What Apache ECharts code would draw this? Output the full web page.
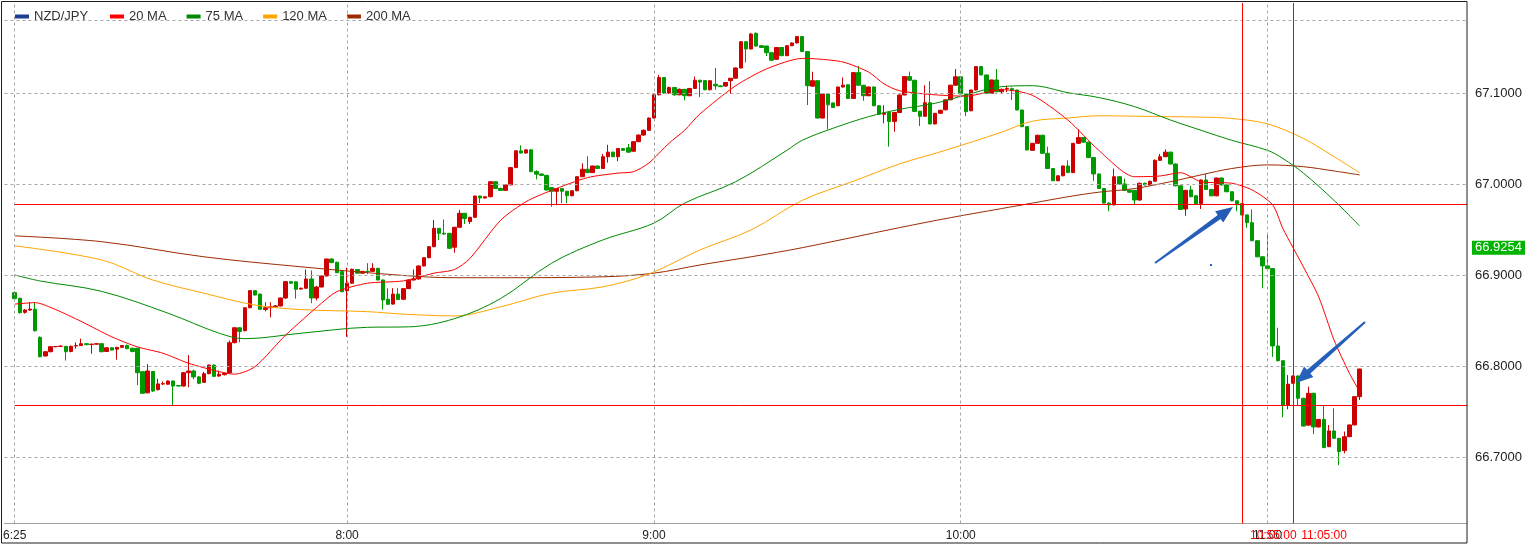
<!DOCTYPE html>
<html><head><meta charset="utf-8">
<script src="https://cdn.jsdelivr.net/npm/echarts@6/dist/echarts.min.js"></script>
<style>html,body{margin:0;padding:0;background:#fff}#c{width:1533px;height:546px}</style>
</head><body><div id="c"></div>
<script>
// ---- data ----
const tickLabels = ['6:25', '8:00', '9:00', '10:00', '11:00'];
const yTicks = [66.7, 66.8, 66.9, 67.0, 67.1];
const topGridValue = 67.179;
const hLines = [66.978, 66.7566];
const vLines = ['10:55', '11:05'];
const vLineLabels = ['10:55:00', '11:05:00'];
const priceTag = 66.9254;

// first candle 6:25, then 1-minute candles from 6:56; [open, close, low, high]
const ohlc = [
[66.8806,66.8740,66.8710,66.8820],[66.8744,66.8586,66.8575,66.8750],[66.8590,66.8615,66.8575,66.8625],[66.8615,66.8625,66.8605,66.8700],
[66.8623,66.8388,66.8378,66.8700],[66.8315,66.8102,66.8095,66.8325],[66.8110,66.8157,66.8105,66.8160],[66.8157,66.8212,66.8150,66.8215],
[66.8212,66.8214,66.8205,66.8220],[66.8214,66.8218,66.8210,66.8230],[66.8216,66.8157,66.8060,66.8220],[66.8160,66.8216,66.8150,66.8225],
[66.8220,66.8224,66.8190,66.8260],[66.8224,66.8245,66.8220,66.8300],[66.8245,66.8235,66.8225,66.8250],[66.8235,66.8240,66.8135,66.8245],
[66.8240,66.8245,66.8235,66.8250],[66.8245,66.8157,66.8150,66.8250],[66.8160,66.8200,66.8155,66.8205],[66.8200,66.8175,66.8170,66.8205],
[66.8185,66.8205,66.8070,66.8210],[66.8205,66.8225,66.8200,66.8230],[66.8225,66.8190,66.8185,66.8235],[66.8195,66.8160,66.8150,66.8200],
[66.8195,66.7926,66.7790,66.8200],[66.7937,66.7700,66.7695,66.7940],[66.7705,66.7945,66.7700,66.8020],[66.7940,66.7725,66.7715,66.7945],
[66.7740,66.7803,66.7730,66.7860],[66.7803,66.7805,66.7790,66.7830],[66.7800,66.7835,66.7795,66.7840],[66.7835,66.7780,66.7570,66.7840],
[66.7785,66.7780,66.7775,66.7790],[66.7780,66.7926,66.7775,66.7935],[66.7926,66.7945,66.7766,66.8120],[66.7945,66.7880,66.7855,66.7960],
[66.7880,66.7810,66.7800,66.7890],[66.7820,66.7915,66.7815,66.7935],[66.7915,66.8010,66.7910,66.8015],[66.8010,66.7886,66.7880,66.8015],
[66.7890,66.7910,66.7880,66.7950],[66.7905,66.7920,66.7895,66.7925],[66.7926,66.8256,66.7920,66.8280],[66.8256,66.8420,66.8250,66.8425],
[66.8420,66.8380,66.8260,66.8425],[66.8388,66.8640,66.8380,66.8645],[66.8640,66.8828,66.8635,66.8835],[66.8828,66.8780,66.8775,66.8835],
[66.8790,66.8623,66.8620,66.8795],[66.8620,66.8640,66.8600,66.8700],[66.8640,66.8650,66.8535,66.8700],[66.8650,66.8660,66.8640,66.8670],
[66.8660,66.8747,66.8655,66.8750],[66.8747,66.8927,66.8740,66.8930],[66.8927,66.8910,66.8905,66.8935],[66.8925,66.8843,66.8740,66.8930],
[66.8845,66.8855,66.8840,66.8860],[66.8854,66.8956,66.8850,66.9060],[66.8956,66.8747,66.8690,66.9050],[66.8747,66.8868,66.8720,66.8880],
[66.8868,66.8989,66.8865,66.8995],[66.8989,66.9176,66.8985,66.9180],[66.9176,66.9136,66.9130,66.9180],[66.9140,66.9025,66.9020,66.9145],
[66.9037,66.8817,66.8810,66.9040],[66.8827,66.8910,66.8320,66.9080],[66.8910,66.9063,66.8905,66.9070],[66.9060,66.9020,66.9015,66.9065],
[66.9020,66.9040,66.9015,66.9045],[66.9040,66.9038,66.9010,66.9130],[66.9040,66.9073,66.9035,66.9130],[66.9073,66.8945,66.8940,66.9080],
[66.8945,66.8725,66.8620,66.8950],[66.8733,66.8678,66.8670,66.8855],[66.8680,66.8790,66.8675,66.8855],[66.8790,66.8730,66.8725,66.8855],
[66.8733,66.8850,66.8728,66.8855],[66.8850,66.8945,66.8845,66.8950],[66.8945,66.8956,66.8940,66.9060],[66.8956,66.9099,66.8950,66.9105],
[66.9099,66.9190,66.9095,66.9195],[66.9190,66.9311,66.9185,66.9315],[66.9311,66.9513,66.9305,66.9605],[66.9513,66.9458,66.9385,66.9515],
[66.9458,66.9450,66.9440,66.9610],[66.9458,66.9293,66.9285,66.9460],[66.9305,66.9524,66.9245,66.9530],[66.9524,66.9678,66.9520,66.9715],
[66.9678,66.9620,66.9560,66.9680],[66.9586,66.9634,66.9560,66.9640],[66.9634,66.9868,66.9630,66.9870],[66.9868,66.9846,66.9790,66.9870],
[66.9846,66.9860,66.9840,66.9865],[66.9860,67.0025,66.9855,67.0030],[67.0025,66.9950,66.9945,67.0030],[66.9950,66.9930,66.9925,66.9960],
[66.9930,66.9990,66.9925,66.9995],[66.9990,67.0180,66.9985,67.0185],[67.0180,67.0364,67.0175,67.0370],[67.0364,67.0340,67.0335,67.0425],
[67.0340,67.0375,67.0335,67.0380],[67.0375,67.0136,67.0130,67.0380],[67.0136,67.0108,67.0050,67.0150],[67.0110,67.0095,67.0090,67.0115],
[67.0095,66.9934,66.9930,67.0100],[66.9960,66.9920,66.9750,66.9965],[66.9920,66.9950,66.9766,66.9955],[66.9950,66.9920,66.9790,66.9955],
[66.9920,66.9871,66.9790,66.9925],[66.9871,66.9926,66.9865,66.9930],[66.9926,67.0080,66.9920,67.0085],[67.0080,67.0162,67.0075,67.0227],
[67.0162,67.0125,67.0120,67.0305],[67.0125,67.0198,67.0120,67.0200],[67.0198,67.0170,67.0165,67.0200],[67.0170,67.0300,67.0165,67.0330],
[67.0300,67.0350,67.0235,67.0430],[67.0350,67.0300,67.0295,67.0355],[67.0300,67.0390,67.0250,67.0395],[67.0390,67.0370,67.0365,67.0395],
[67.0398,67.0350,67.0345,67.0440],[67.0360,67.0465,67.0355,67.0470],[67.0465,67.0538,67.0460,67.0545],[67.0538,67.0590,67.0530,67.0600],
[67.0590,67.0725,67.0585,67.0730],[67.0725,67.0980,67.0720,67.0985],[67.0980,67.1170,67.0975,67.1200],[67.1170,67.1000,67.0995,67.1175],
[67.1000,67.1060,67.0990,67.1070],[67.1060,67.0980,67.0970,67.1065],[67.0980,67.1040,67.0975,67.1050],[67.1040,67.0970,67.0920,67.1045],
[67.0970,67.1050,67.0965,67.1055],[67.1050,67.1140,67.1045,67.1180],[67.1140,67.1120,67.0955,67.1145],[67.1136,67.1036,67.1030,67.1140],
[67.1036,67.1135,67.1030,67.1140],[67.1096,67.1078,67.1036,67.1275],[67.1078,67.1070,67.1065,67.1085],[67.1076,67.1115,67.1070,67.1120],
[67.1135,67.1162,67.0989,67.1165],[67.1162,67.1275,67.1160,67.1280],[67.1275,67.1564,67.1270,67.1570],[67.1564,67.1484,67.1337,67.1570],
[67.1484,67.1648,67.1480,67.1660],[67.1656,67.1516,67.1510,67.1665],[67.1520,67.1500,67.1495,67.1525],[67.1516,67.1443,67.1406,67.1520],
[67.1443,67.1360,67.1355,67.1445],[67.1370,67.1500,67.1365,67.1505],[67.1500,67.1410,67.1405,67.1505],[67.1410,67.1520,67.1405,67.1525],
[67.1520,67.1550,67.1515,67.1555],[67.1550,67.1620,67.1545,67.1625],[67.1620,67.1455,67.1450,67.1625],[67.1455,67.1080,67.0868,67.1460],
[67.1075,67.1135,67.1070,67.1234],[67.1135,67.0725,67.0720,67.1140],[67.0725,67.0989,67.0720,67.0995],[67.0990,67.0870,67.0600,67.0995],
[67.0891,67.0840,67.0835,67.0895],[67.0860,67.1066,67.0855,67.1070],[67.1066,67.1086,67.1060,67.1170],[67.1090,67.0940,67.0935,67.1095],
[67.0940,67.1224,67.0935,67.1230],[67.1224,67.1085,67.1080,67.1297],[67.1085,67.0970,67.0916,67.1090],[67.0970,67.1066,67.0965,67.1070],
[67.1066,67.0860,67.0855,67.1070],[67.0860,67.0766,67.0760,67.0865],[67.0766,67.0780,67.0667,67.0866],[67.0786,67.0686,67.0410,67.0790],
[67.0688,67.0786,67.0575,67.0790],[67.0786,67.0978,67.0780,67.0985],[67.0978,67.1180,67.0975,67.1185],[67.1180,67.1140,67.1135,67.1235],
[67.1140,67.0798,67.0795,67.1145],[67.0800,67.0744,67.0637,67.0805],[67.0744,67.0893,67.0740,67.1085],[67.0893,67.0660,67.0655,67.1130],
[67.0660,67.0777,67.0655,67.0780],[67.0777,67.0810,67.0775,67.0815],[67.0815,67.0925,67.0810,67.0930],[67.0925,67.1086,67.0920,67.1090],
[67.1086,67.1178,67.1080,67.1264],[67.1178,67.0990,67.0985,67.1180],[67.0990,67.0795,67.0747,67.0995],[67.0805,67.1033,67.0800,67.1035],
[67.1033,67.1290,67.1030,67.1295],[67.1290,67.1198,67.1195,67.1295],[67.1198,67.0997,67.0995,67.1200],[67.0997,67.1143,67.0995,67.1145],
[67.1143,67.1014,67.1010,67.1264],[67.1014,67.1040,67.0990,67.1050],[67.1045,67.1049,67.1010,67.1080],[67.1047,67.1030,67.0923,67.1060],
[67.1033,67.0813,67.0810,67.1035],[67.0813,67.0630,67.0625,67.0815],[67.0630,67.0374,67.0370,67.0635],[67.0370,67.0447,67.0365,67.0450],
[67.0447,67.0536,67.0440,67.0540],[67.0536,67.0337,67.0330,67.0540],[67.0337,67.0170,67.0165,67.0410],[67.0170,67.0036,67.0030,67.0175],
[67.0036,67.0090,67.0030,67.0095],[67.0090,67.0198,67.0085,67.0200],[67.0198,67.0125,67.0120,67.0260],[67.0125,67.0447,67.0120,67.0450],
[67.0447,67.0510,67.0440,67.0600],[67.0510,67.0460,67.0455,67.0515],[67.0460,67.0290,67.0285,67.0465],[67.0290,67.0110,67.0036,67.0295],
[67.0110,66.9950,66.9945,67.0115],[66.9950,66.9790,66.9785,66.9955],[66.9790,66.9770,66.9700,66.9800],[66.9770,67.0080,66.9765,67.0170],
[67.0080,67.0000,66.9995,67.0085],[67.0000,66.9930,66.9925,67.0060],[66.9930,66.9910,66.9900,66.9940],[66.9930,66.9824,66.9780,66.9935],
[66.9824,67.0008,66.9815,67.0015],[67.0008,66.9990,66.9985,67.0015],[66.9990,67.0030,66.9985,67.0035],[67.0030,67.0260,67.0025,67.0270],
[67.0260,67.0300,67.0255,67.0330],[67.0300,67.0350,67.0295,67.0380],[67.0350,67.0220,67.0215,67.0355],[67.0220,66.9980,66.9975,67.0225],
[66.9980,66.9720,66.9715,66.9985],[66.9725,66.9930,66.9650,66.9935],[66.9935,66.9860,66.9855,66.9980],[66.9870,66.9785,66.9780,66.9875],
[66.9785,67.0044,66.9725,67.0050],[67.0044,66.9940,66.9935,67.0110],[66.9940,66.9870,66.9865,66.9945],[66.9870,67.0066,66.9865,67.0070],
[67.0066,66.9990,66.9985,67.0070],[66.9990,66.9915,66.9910,66.9995],[66.9915,66.9815,66.9810,66.9920],[66.9815,66.9785,66.9700,66.9820],
[66.9785,66.9660,66.9655,66.9790],[66.9660,66.9575,66.9520,66.9665],[66.9575,66.9377,66.9370,66.9720],[66.9377,66.9200,66.9195,66.9380],
[66.9200,66.9100,66.8854,66.9205],[66.9100,66.9070,66.9065,66.9440],[66.9070,66.8220,66.8100,66.9075],[66.8220,66.8058,66.8050,66.8420],
[66.8058,66.7570,66.7436,66.8062],[66.7570,66.7800,66.7524,66.7900],[66.7810,66.7890,66.7805,66.7895],[66.7890,66.7645,66.7570,66.7895],
[66.7645,66.7340,66.7335,66.7650],[66.7350,66.7700,66.7345,66.7773],[66.7700,66.7330,66.7253,66.7705],[66.7330,66.7413,66.7325,66.7415],
[66.7413,66.7103,66.7098,66.7560],[66.7113,66.7286,66.7108,66.7352],[66.7286,66.7205,66.7200,66.7535],[66.7205,66.7060,66.6910,66.7210],
[66.7070,66.7223,66.7040,66.7280],[66.7223,66.7352,66.7218,66.7355],[66.7352,66.7663,66.7348,66.7665],[66.7663,66.7967,66.7626,66.7970]
];

const ma20 = [['6:25',66.868],['6:59',66.8696],['7:03',66.862],['7:08',66.849],['7:14',66.832],['7:19',66.821],['7:24',66.814],['7:29',66.803],
['7:35',66.7937],['7:38',66.791],['7:42',66.7993],['7:48',66.834],['7:55',66.869],['7:58',66.8817],['8:04',66.891],['8:11',66.8935],['8:17',66.902],
['8:21',66.906],['8:24',66.918],['8:30',66.960],['8:35',66.9806],['8:40',66.993],['8:47',67.007],['8:53',67.012],['8:56',67.0135],['8:59',67.023],
['9:03',67.045],['9:06',67.059],['9:09',67.077],['9:16',67.108],['9:22',67.1264],['9:29',67.138],['9:32',67.1374],['9:37',67.134],['9:42',67.123],
['9:45',67.110],['9:48',67.1025],['9:55',67.098],['10:01',67.0965],['10:08',67.1036],['10:14',67.0975],['10:21',67.070],['10:27',67.037],
['10:34',67.008],['10:39',67.0088],['10:43',67.0124],['10:47',67.0025],['10:53',67.0008],['10:57',66.9934],['11:01',66.977],['11:03',66.951],
['11:07',66.909],['11:10',66.876],['11:13',66.8286],['11:16',66.792],['11:18',66.772]];

const ma75 = [['6:25',66.900],['7:00',66.8934],['7:12',66.882],['7:25',66.858],['7:35',66.836],['7:40',66.830],['7:51',66.836],['8:04',66.8425],
['8:12',66.843],['8:21',66.852],['8:30',66.874],['8:40',66.913],['8:50',66.9385],['9:00',66.957],['9:06',66.979],['9:16',67.0025],['9:26',67.037],
['9:29',67.048],['9:35',67.0612],['9:42',67.074],['9:48',67.082],['9:55',67.0887],['10:01',67.0978],['10:08',67.107],['10:14',67.108],
['10:21',67.1003],['10:27',67.095],['10:34',67.085],['10:41',67.0703],['10:47',67.059],['10:53',67.048],['11:00',67.037],['11:03',67.028],
['11:07',67.012],['11:13',66.982],['11:18',66.954]];

const ma120 = [['6:25',66.932],['7:12',66.9165],['7:22',66.8945],['7:32',66.880],['7:42',66.867],['7:51',66.862],['8:04',66.8597],['8:11',66.857],
['8:21',66.855],['8:30',66.865],['8:40',66.880],['8:50',66.887],['8:59',66.901],['9:09',66.9275],['9:19',66.9495],['9:29',66.982],['9:39',67.003],
['9:48',67.022],['9:57',67.037],['10:08',67.057],['10:14',67.069],['10:21',67.0725],['10:27',67.075],['10:34',67.0745],['10:41',67.074],
['10:47',67.0735],['10:53',67.072],['11:00',67.066],['11:07',67.050],['11:13',67.030],['11:18',67.0124]];

const ma200 = [['6:25',66.943],['7:12',66.9366],['7:32',66.920],['7:51',66.909],['8:11',66.8995],['8:21',66.897],['8:30',66.897],['8:50',66.898],
['9:00',66.902],['9:09',66.911],['9:19',66.920],['9:29',66.930],['9:48',66.952],['9:58',66.963],['10:08',66.973],['10:14',66.979],['10:21',66.986],
['10:27',66.991],['10:34',66.995],['10:41',67.0025],['10:47',67.010],['10:53',67.017],['11:00',67.021],['11:07',67.019],['11:13',67.0143],['11:18',67.010]];

// ---- categories: two empty leading slots, 6:25, then 6:56 .. 11:39 ----
function fmt(m){ return Math.floor(m/60) + ':' + String(m%60).padStart(2,'0'); }
const categories = ['', '', '6:25'];
for (let m = 6*60+56; m <= 11*60+39; m++) categories.push(fmt(m));
const candleTimes = categories.slice(2);
const candleRows = ohlc.map((d, k) => [candleTimes[k], d[0], d[1], d[2], d[3]]);
const lastCat = categories[categories.length - 1];

const FONT = 'Liberation Sans, Arial, sans-serif';
const gridLineStyle = { color: '#a8a8a8', width: 1, type: [3, 3] };

function arrowPoints(t, h, headLen, headHalf, tailHalf, neckHalf) {
  const dx = h[0]-t[0], dy = h[1]-t[1], L = Math.hypot(dx, dy);
  const ux = dx/L, uy = dy/L, nx = -uy, ny = ux;
  const bx = h[0]-ux*headLen, by = h[1]-uy*headLen;
  return [[t[0]+nx*tailHalf, t[1]+ny*tailHalf],[bx+nx*neckHalf, by+ny*neckHalf],[bx+nx*headHalf, by+ny*headHalf],
          h,[bx-nx*headHalf, by-ny*headHalf],[bx-nx*neckHalf, by-ny*neckHalf],[t[0]-nx*tailHalf, t[1]-ny*tailHalf]];
}
const arrowFill = { type:'linear', x:0, y:0, x2:1, y2:1, colorStops:[{offset:0,color:'#2f6fcf'},{offset:1,color:'#1b4fa8'}] };

const baseXAxis = { type: 'category', data: categories, boundaryGap: false, gridIndex: 0, position: 'bottom',
  axisTick: { show: false }, splitLine: { show: false } };

const chart = echarts.init(document.getElementById('c'), null, { renderer: 'canvas' });
chart.setOption({
  animation: false,
  backgroundColor: '#fff',
  textStyle: { fontFamily: FONT },
  dataset: { source: candleRows, dimensions: ['time','open','close','low','high'] },
  grid: { left: 1, right: 66, top: 3, bottom: 22.5, containLabel: false },
  legend: [
    { left: 10, top: 5, icon: 'rect', itemWidth: 14, itemHeight: 4, selectedMode: false,
      textStyle: { fontSize: 13, color: '#333', fontFamily: FONT },
      data: [{ name: 'NZD/JPY', itemStyle: { color: '#1c3f94', borderColor: '#1c3f94', borderWidth: 0 } }] },
    { left: 105, top: 5, icon: 'rect', itemWidth: 14, itemHeight: 4, itemGap: 20, selectedMode: false,
      textStyle: { fontSize: 13, color: '#333', fontFamily: FONT },
      data: ['20 MA', '75 MA', '120 MA', '200 MA'] }
  ],
  xAxis: [
    Object.assign({}, baseXAxis, {
      axisLine: { show: true, lineStyle: { color: '#a0a0a0', width: 1 } },
      axisLabel: { interval: (i, v) => tickLabels.indexOf(v) >= 0, color: '#222', fontSize: 12, margin: 6, fontFamily: FONT, hideOverlap: false }
    }),
    Object.assign({}, baseXAxis, {
      axisLine: { show: false },
      axisLabel: { interval: (i, v) => vLines.indexOf(v) >= 0, formatter: v => vLineLabels[vLines.indexOf(v)] || '',
                   color: '#ff0000', fontSize: 12, margin: 6, fontFamily: FONT, align: 'left', padding: [0, 0, 0, 8], hideOverlap: false }
    })
  ],
  yAxis: {
    type: 'value', position: 'right', min: 66.6269, max: 67.1989, scale: true,
    axisLine: { show: false }, axisTick: { show: false }, splitLine: { show: false },
    axisLabel: { customValues: yTicks, formatter: v => v.toFixed(4), color: '#222', fontSize: 13, margin: 8, fontFamily: FONT }
  },
  series: [
    { type: 'line', name: 'gridlines', data: [], z: 1, silent: true, symbol: 'none',
      markLine: { silent: true, symbol: ['none','none'], label: { show: false }, lineStyle: gridLineStyle, animation: false,
        data: yTicks.concat([topGridValue]).map(v => ({ yAxis: v })).concat(tickLabels.map(t => ({ xAxis: t }))) } },
    { type: 'candlestick', name: 'NZD/JPY', encode: { x: 'time', y: ['open','close','low','high'] }, z: 2, silent: true,
      barWidth: 4,
      itemStyle: { color: '#cc0000', color0: '#009900', borderColor: '#cc0000', borderColor0: '#009900', borderWidth: 1 } },
    { type: 'line', name: '200 MA', data: ma200, color: '#9c2b00', symbol: 'none', showSymbol: false, z: 3, silent: true, smooth: 0.35, lineStyle: { width: 1 } },
    { type: 'line', name: '120 MA', data: ma120, color: '#ffa500', symbol: 'none', showSymbol: false, z: 3, silent: true, smooth: 0.35, lineStyle: { width: 1 } },
    { type: 'line', name: '75 MA', data: ma75, color: '#008a00', symbol: 'none', showSymbol: false, z: 3, silent: true, smooth: 0.35, lineStyle: { width: 1 } },
    { type: 'line', name: '20 MA', data: ma20, color: '#ff0000', symbol: 'none', showSymbol: false, z: 3, silent: true, smooth: 0.25, lineStyle: { width: 1 } },
    { type: 'line', name: 'annotations', data: [], z: 5, silent: true, symbol: 'none',
      markLine: { silent: true, symbol: ['none','none'], animation: false, label: { show: false },
        lineStyle: { color: '#ff0000', width: 1, type: 'solid' },
        data: hLines.map(v => [{ coord: ['6:25', v] }, { coord: [lastCat, v] }])
          .concat(vLines.map(t => ({ xAxis: t })))
          .concat([{ yAxis: priceTag, lineStyle: { color: 'rgba(0,0,0,0)', width: 0 },
              label: { show: true, position: 'end', formatter: priceTag.toFixed(4), color: '#fff', backgroundColor: '#00b400',
                       fontSize: 13, fontFamily: FONT, padding: [1, 3, 0, 3], distance: 5 } }]) } }
  ],
  graphic: [
    { type: 'rect', shape: { x: 1.5, y: 1.5, width: 1465.5, height: 541.5 }, style: { fill: 'none', stroke: '#1e1e1e', lineWidth: 1 }, silent: true, z: 50 },
    { type: 'polygon', shape: { points: arrowPoints([1155, 263], [1233, 207], 17, 7, 1, 2.5) }, style: { fill: arrowFill }, silent: true, z: 60 },
    { type: 'polygon', shape: { points: arrowPoints([1365, 322], [1296, 383], 17, 7, 1, 2.5) }, style: { fill: arrowFill }, silent: true, z: 60 },
    { type: 'rect', shape: { x: 1210, y: 264, width: 2, height: 2 }, style: { fill: '#2a5fb8' }, silent: true, z: 60 }
  ]
});
</script>
</body></html>
